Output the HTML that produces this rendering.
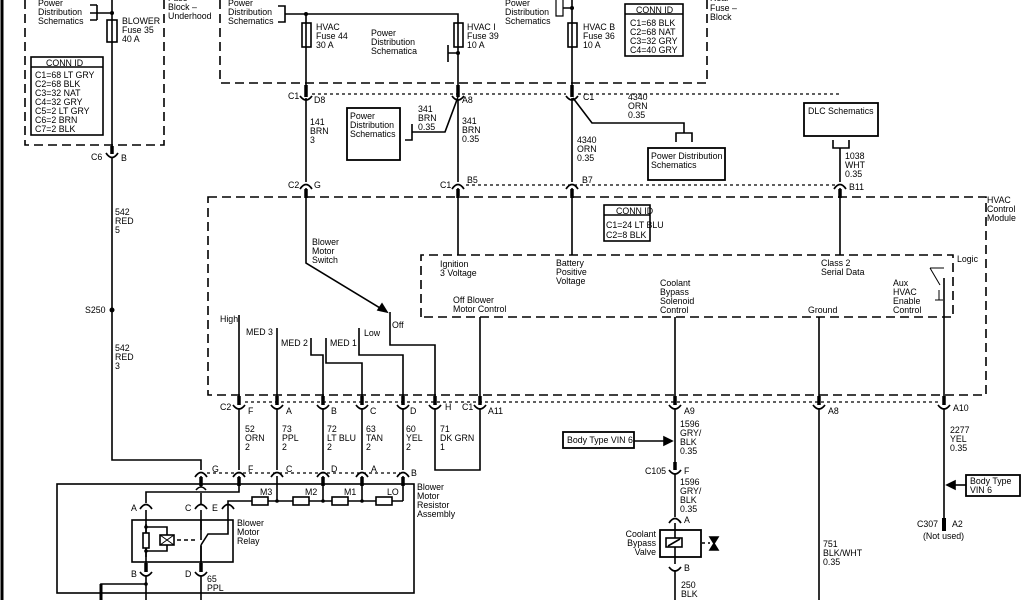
<!DOCTYPE html>
<html><head><meta charset="utf-8"><style>
html,body{margin:0;padding:0;background:#fff;}
svg{display:block;font-family:"Liberation Sans",sans-serif;font-size:8.8px;}
</style></head><body>
<svg width="1024" height="600" viewBox="0 0 1024 600" xmlns="http://www.w3.org/2000/svg">
<g fill="none" stroke="#000" stroke-width="1.6">
<line x1="2" y1="0" x2="2" y2="600" stroke-width="3"/>
<g stroke-dasharray="9,5" stroke-width="1.6">
<path d="M25 0 V145 H164 V0"/>
<path d="M220 0 V83 H707 V0"/>
<path d="M208 197 H986 V395 H208 Z"/>
<path d="M421 317 V255 H953 V317 H421"/>
</g>
<g stroke-dasharray="3,3" stroke-width="1.3">
<line x1="312" y1="94" x2="566" y2="94"/>
<line x1="578" y1="94" x2="840" y2="94"/>
<line x1="466" y1="185" x2="836" y2="185"/>
<line x1="245" y1="402" x2="940" y2="402"/>
<line x1="207" y1="473" x2="400" y2="473"/>
</g>
<path d="M112 0 V152 M112 158 V460 H201 V470"/>
<path d="M90 13 H112"/>
<path d="M97 5 V20 M97 5 H90 M97 20 H90"/>
<path d="M285 14 H458 V88 M458 100 V182 M458 188 V255"/>
<path d="M278 6 H285 V22 H278"/>
<path d="M306 14 V92 M306 98 V182 M306 188 V263 L385 311"/>
<path d="M458 53 H448 M448 45 V62"/>
<path d="M572 0 V92 M572 98 V182 M572 188 V255 M563 8 H572"/>
<path d="M556 0 V16 H563 V0" stroke-width="1.2"/>
<path d="M458 97 L445 132 H412 M412 124 V140 H405"/>
<path d="M573 98 L592 123 H684 V133 M676 142 V133 H692 V142"/>
<path d="M840 148 V182 M840 188 V255 M833 140 V148 H849 V140"/>
<path d="M390 312 V345 H435 V402 M435 408 V470 H480 V408 M480 402 V317"/>
<path d="M239 315 V402 M239 408 V470 M239 476 V492 H146 V503"/>
<path d="M277 328 V402 M277 408 V470 M277 476 V501"/>
<path d="M311 338 V355 H323 V402 M323 408 V470 M323 476 V501"/>
<path d="M326 338 V363 H362 V402 M362 408 V470 M362 476 V501"/>
<path d="M359 328 V355 H403 V402 M403 408 V470 M403 476 V501"/>
<path d="M675 317 V402 M675 408 V468 M675 474 V517 M675 523 V564 M675 570 V600"/>
<path d="M819 317 V402 M819 408 V600"/>
<path d="M944 278 V402 M944 408 V520"/>
<path d="M930 268 H944 M930 268 L940 285 M939 290 V300 M935 300 H943" stroke-width="1"/>
<path d="M201 476 V487 M201 493 V504 M201 510 V540 M201 546 V570 M201 576 V600"/>
<path d="M196 490 Q201 484 206 490" />
<path d="M228 510 V501 H403"/>
<path d="M146 510 V570 M146 576 V600 M146 584 H101 V600"/>
<path d="M101 584 V600" stroke-width="3"/>
<rect x="57" y="484" width="357" height="109"/>
<rect x="132" y="520" width="101" height="42"/>
<rect x="31" y="57" width="72" height="78"/><line x1="31" y1="67" x2="103" y2="67"/>
<rect x="625" y="4" width="58" height="52"/><line x1="625" y1="14" x2="683" y2="14"/>
<rect x="604" y="205" width="46" height="36"/><line x1="604" y1="215" x2="650" y2="215"/>
<rect x="347" y="108" width="53" height="52" stroke-width="1.8"/>
<rect x="648" y="148" width="77" height="32" stroke-width="1.8"/>
<rect x="804" y="103" width="74" height="33" stroke-width="1.8"/>
<rect x="563" y="432" width="71" height="16" stroke-width="1.8"/>
<rect x="966" y="475" width="54" height="21" stroke-width="1.8"/>
<rect x="660" y="530" width="41" height="27" stroke-width="1.8"/>
<rect x="107" y="20" width="10" height="22"/>
<rect x="302" y="23" width="9" height="24"/>
<rect x="454" y="23" width="9" height="24"/>
<rect x="568" y="23" width="9" height="24"/>
<g fill="#fff">
<rect x="252" y="497" width="16" height="8"/><rect x="293" y="497" width="16" height="8"/>
<rect x="332" y="497" width="16" height="8"/><rect x="376" y="497" width="16" height="8"/>
</g>
<path d="M146 524 V557 M146 527 H167 V551 H146"/>
<rect x="143" y="533" width="6" height="15" fill="#fff"/>
<rect x="160" y="535" width="14" height="10" fill="#fff"/>
<path d="M160 535 L174 545 M160 545 L174 535" stroke-width="1"/>
<path d="M177 540 H197" stroke-dasharray="4,3"/>
<path d="M201 520 V530 M201 545 V562 M201 545 L208 534 H228 V510"/>
<rect x="666" y="538" width="16" height="9" fill="#fff"/><path d="M668 546 L680 539"/>
<path d="M702 543 H710" stroke-dasharray="3,3"/>
<path d="M710 537 H718 L710 550 H718 Z" fill="#000"/>
<path d="M634 441 H666"/><path d="M672 441 L664 437 V445 Z" fill="#000"/>
<path d="M966 485 H954"/><path d="M947 485 L955 481 V489 Z" fill="#000"/>
<path d="M387 312 L378 310 L382 304 Z" fill="#000"/>
<path d="M944 518 V531" stroke-width="4"/>
</g>
<g fill="none" stroke="#000" stroke-width="1.7">
<path d="M106 153 Q112 162 118 153 M300 96 Q306 104 312 96 M452 96 Q458 104 464 96 M566 96 Q572 104 578 96 M669 470 Q675 478 681 470 M140 572 Q146 580 152 572 M195 572 Q201 580 207 572 M669 567 Q675 575 681 567"/>
<path d="M300 189 Q306 180 312 189 M452 189 Q458 180 464 189 M566 189 Q572 180 578 189 M834 189 Q840 180 846 189 M195 477 Q201 468 207 477 M233 477 Q239 468 245 477 M271 477 Q277 468 283 477 M317 477 Q323 468 329 477 M356 477 Q362 468 368 477 M397 477 Q403 468 409 477 M140 509 Q146 500 152 509 M195 509 Q201 500 207 509 M222 509 Q228 500 234 509 M669 523 Q675 514 681 523"/>
<path d="M233 405 Q239 413 245 405 M271 405 Q277 413 283 405 M317 405 Q323 413 329 405 M356 405 Q362 413 368 405 M397 405 Q403 413 409 405 M429 405 Q435 413 441 405 M474 405 Q480 413 486 405 M669 405 Q675 413 681 405 M813 405 Q819 413 825 405 M938 405 Q944 413 950 405"/>
</g>
<g stroke="#000" stroke-width="3.5">
<path d="M112 146 V154 M306 85 V97 M458 85 V97 M572 85 V97 M306 189 V198 M458 189 V198 M572 189 V198 M840 189 V198 M201 477 V486 M239 477 V486 M323 477 V486 M362 477 V486 M403 477 V486 M239 396 V405 M277 396 V405 M323 396 V405 M362 396 V405 M403 396 V405 M435 396 V405 M480 396 V405 M675 396 V405 M819 396 V405 M944 396 V405 M675 462 V470 M146 563 V572 M201 563 V572"/>
</g>
<g fill="#000">
<circle cx="112" cy="13" r="2"/><circle cx="306" cy="14" r="2"/><circle cx="458" cy="53" r="2"/><circle cx="572" cy="8" r="2"/>
<circle cx="112" cy="310" r="2.5"/><circle cx="277" cy="501" r="1.8"/><circle cx="323" cy="501" r="1.8"/><circle cx="362" cy="501" r="1.8"/>
<circle cx="146" cy="527" r="1.8"/><circle cx="146" cy="551" r="1.8"/><circle cx="146" cy="584" r="1.8"/>
</g>
<g fill="#000">
<text x="38" y="6">Power</text><text x="38" y="15">Distribution</text><text x="38" y="24">Schematics</text>
<text x="122" y="24">BLOWER</text><text x="122" y="33">Fuse 35</text><text x="122" y="42">40 A</text>
<text x="168" y="1">Fuse</text><text x="168" y="10">Block –</text><text x="168" y="19">Underhood</text>
<text x="46" y="66">CONN ID</text>
<text x="35" y="78">C1=68 LT GRY</text><text x="35" y="87">C2=68 BLK</text><text x="35" y="96">C3=32 NAT</text><text x="35" y="105">C4=32 GRY</text><text x="35" y="114">C5=2 LT GRY</text><text x="35" y="123">C6=2 BRN</text><text x="35" y="132">C7=2 BLK</text>
<text x="91" y="160">C6</text><text x="121" y="161">B</text>
<text x="228" y="6">Power</text><text x="228" y="15">Distribution</text><text x="228" y="24">Schematics</text>
<text x="316" y="30">HVAC</text><text x="316" y="39">Fuse 44</text><text x="316" y="48">30 A</text>
<text x="371" y="36">Power</text><text x="371" y="45">Distribution</text><text x="371" y="54">Schematica</text>
<text x="467" y="30">HVAC I</text><text x="467" y="39">Fuse 39</text><text x="467" y="48">10 A</text>
<text x="505" y="6">Power</text><text x="505" y="15">Distribution</text><text x="505" y="24">Schematics</text>
<text x="583" y="30">HVAC B</text><text x="583" y="39">Fuse 36</text><text x="583" y="48">10 A</text>
<text x="636" y="13">CONN ID</text>
<text x="630" y="26">C1=68 BLK</text><text x="630" y="35">C2=68 NAT</text><text x="630" y="44">C3=32 GRY</text><text x="630" y="53">C4=40 GRY</text>
<text x="710" y="1">Rear</text><text x="710" y="11">Fuse –</text><text x="710" y="20">Block</text>
<text x="288" y="99">C1</text><text x="314" y="103">D8</text><text x="462" y="103">A8</text><text x="583" y="100">C1</text>
<text x="310" y="125">141</text><text x="310" y="134">BRN</text><text x="310" y="143">3</text>
<text x="350" y="119">Power</text><text x="350" y="128">Distribution</text><text x="350" y="137">Schematics</text>
<text x="418" y="112">341</text><text x="418" y="121">BRN</text><text x="418" y="130">0.35</text>
<text x="462" y="124">341</text><text x="462" y="133">BRN</text><text x="462" y="142">0.35</text>
<text x="628" y="100">4340</text><text x="628" y="109">ORN</text><text x="628" y="118">0.35</text>
<text x="577" y="143">4340</text><text x="577" y="152">ORN</text><text x="577" y="161">0.35</text>
<text x="651" y="159">Power Distribution</text><text x="651" y="168">Schematics</text>
<text x="808" y="114">DLC Schematics</text>
<text x="845" y="159">1038</text><text x="845" y="168">WHT</text><text x="845" y="177">0.35</text>
<text x="288" y="188">C2</text><text x="314" y="188">G</text><text x="440" y="188">C1</text><text x="467" y="183">B5</text><text x="582" y="183">B7</text><text x="849" y="190">B11</text>
<text x="987" y="203">HVAC</text><text x="987" y="212">Control</text><text x="987" y="221">Module</text>
<text x="616" y="214">CONN ID</text><text x="606" y="228">C1=24 LT BLU</text><text x="606" y="238">C2=8 BLK</text>
<text x="312" y="245">Blower</text><text x="312" y="254">Motor</text><text x="312" y="263">Switch</text>
<text x="440" y="267">Ignition</text><text x="440" y="276">3 Voltage</text>
<text x="556" y="266">Battery</text><text x="556" y="275">Positive</text><text x="556" y="284">Voltage</text>
<text x="821" y="266">Class 2</text><text x="821" y="275">Serial Data</text>
<text x="957" y="262">Logic</text>
<text x="660" y="286">Coolant</text><text x="660" y="295">Bypass</text><text x="660" y="304">Solenoid</text><text x="660" y="313">Control</text>
<text x="808" y="313">Ground</text>
<text x="893" y="286">Aux</text><text x="893" y="295">HVAC</text><text x="893" y="304">Enable</text><text x="893" y="313">Control</text>
<text x="453" y="303">Off Blower</text><text x="453" y="312">Motor Control</text>
<text x="220" y="322">High</text><text x="246" y="335">MED 3</text><text x="281" y="346">MED 2</text><text x="330" y="346">MED 1</text><text x="364" y="336">Low</text><text x="392" y="328">Off</text>
<text x="85" y="313">S250</text>
<text x="115" y="215">542</text><text x="115" y="224">RED</text><text x="115" y="233">5</text>
<text x="115" y="351">542</text><text x="115" y="360">RED</text><text x="115" y="369">3</text>
<text x="220" y="410">C2</text><text x="248" y="414">F</text><text x="286" y="414">A</text><text x="331" y="414">B</text><text x="370" y="414">C</text><text x="410" y="414">D</text><text x="445" y="410">H</text><text x="462" y="410">C1</text><text x="488" y="414">A11</text>
<text x="684" y="414">A9</text><text x="828" y="414">A8</text><text x="953" y="411">A10</text>
<text x="245" y="432">52</text><text x="245" y="441">ORN</text><text x="245" y="450">2</text>
<text x="282" y="432">73</text><text x="282" y="441">PPL</text><text x="282" y="450">2</text>
<text x="327" y="432">72</text><text x="327" y="441">LT BLU</text><text x="327" y="450">2</text>
<text x="366" y="432">63</text><text x="366" y="441">TAN</text><text x="366" y="450">2</text>
<text x="406" y="432">60</text><text x="406" y="441">YEL</text><text x="406" y="450">2</text>
<text x="440" y="432">71</text><text x="440" y="441">DK GRN</text><text x="440" y="450">1</text>
<text x="212" y="472">G</text><text x="248" y="472">F</text><text x="286" y="472">C</text><text x="331" y="472">D</text><text x="371" y="472">A</text><text x="411" y="476">B</text>
<text x="417" y="490">Blower</text><text x="417" y="499">Motor</text><text x="417" y="508">Resistor</text><text x="417" y="517">Assembly</text>
<text x="260" y="495">M3</text><text x="305" y="495">M2</text><text x="344" y="495">M1</text><text x="387" y="495">LO</text>
<text x="131" y="511">A</text><text x="185" y="511">C</text><text x="212" y="511">E</text>
<text x="237" y="526">Blower</text><text x="237" y="535">Motor</text><text x="237" y="544">Relay</text>
<text x="131" y="577">B</text><text x="185" y="577">D</text>
<text x="207" y="582">65</text><text x="207" y="591">PPL</text>
<text x="567" y="443">Body Type VIN 6</text>
<text x="680" y="427">1596</text><text x="680" y="436">GRY/</text><text x="680" y="445">BLK</text><text x="680" y="454">0.35</text>
<text x="645" y="474">C105</text><text x="684" y="474">F</text>
<text x="680" y="485">1596</text><text x="680" y="494">GRY/</text><text x="680" y="503">BLK</text><text x="680" y="512">0.35</text>
<text x="684" y="523">A</text><text x="684" y="571">B</text>
<text x="656" y="537" text-anchor="end">Coolant</text><text x="656" y="546" text-anchor="end">Bypass</text><text x="656" y="555" text-anchor="end">Valve</text>
<text x="681" y="588">250</text><text x="681" y="597">BLK</text>
<text x="823" y="547">751</text><text x="823" y="556">BLK/WHT</text><text x="823" y="565">0.35</text>
<text x="950" y="433">2277</text><text x="950" y="442">YEL</text><text x="950" y="451">0.35</text>
<text x="970" y="484">Body Type</text><text x="970" y="493">VIN 6</text>
<text x="917" y="527">C307</text><text x="952" y="527">A2</text><text x="923" y="539">(Not used)</text>
</g>
</svg>
</body></html>
